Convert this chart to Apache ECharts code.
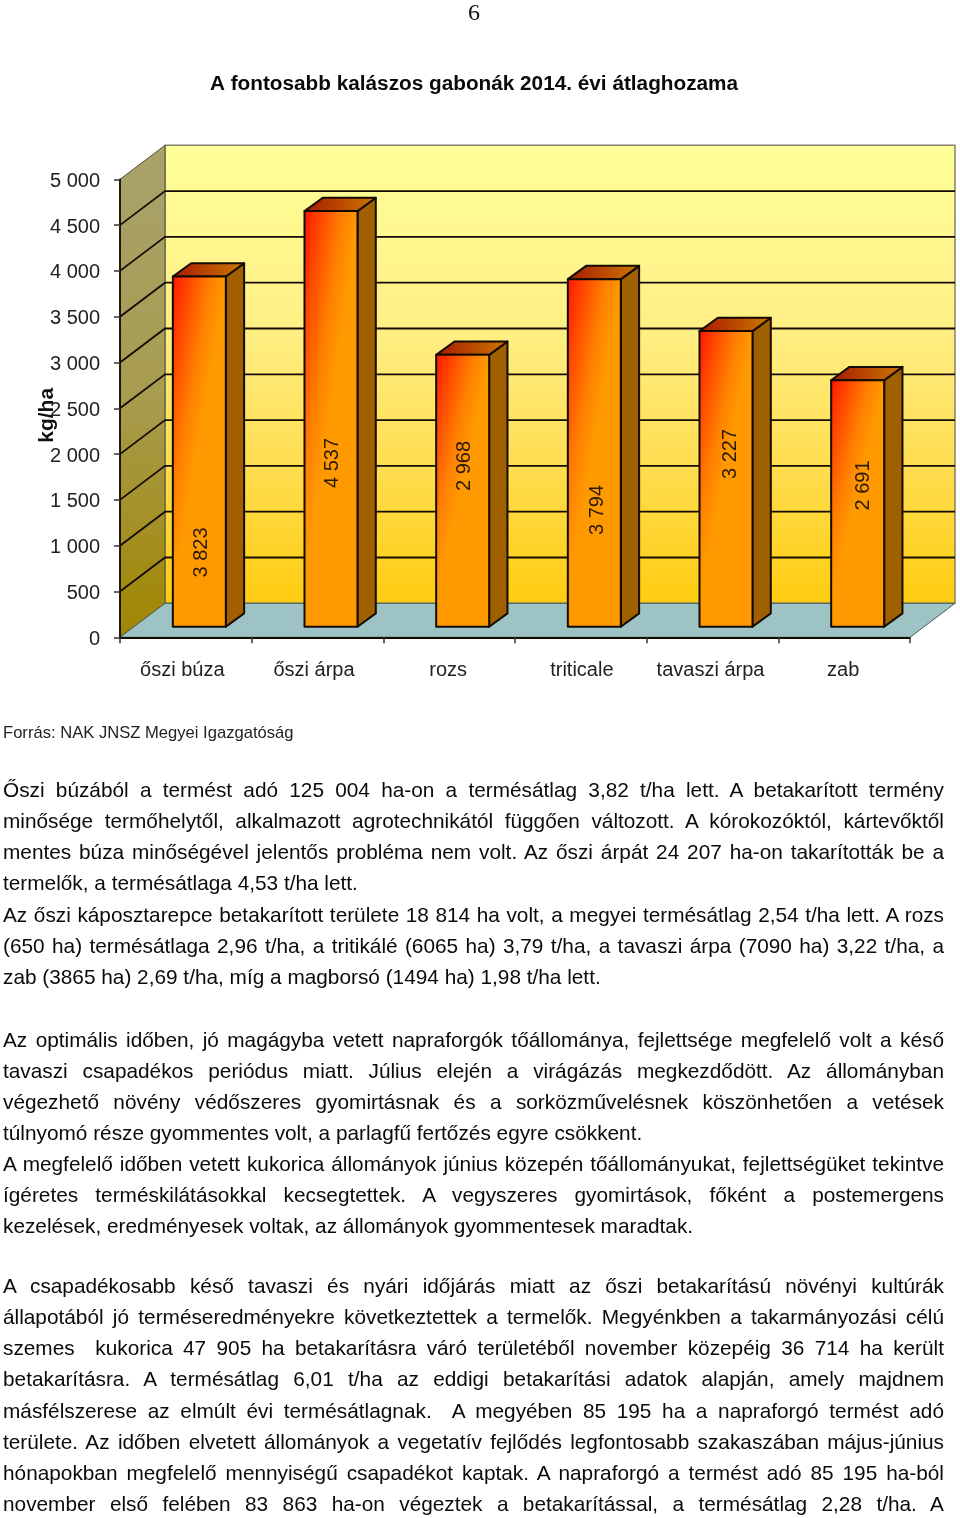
<!DOCTYPE html>
<html><head><meta charset="utf-8">
<style>
html,body{margin:0;padding:0;background:#fff;width:960px;height:1518px;overflow:hidden}
#chart{position:absolute;left:0;top:0;width:960px;height:1518px}
.l{position:absolute;left:3px;width:941px;height:26px;font:20.8px/26px "Liberation Sans",Arial,sans-serif;color:#0a0a0a;text-align:justify;text-align-last:justify;overflow:hidden}
.e{text-align-last:left}
#pg{position:absolute;left:463px;top:-1px;width:22px;text-align:center;font:24px/26px "Liberation Serif",serif;color:#111}
</style></head><body>
<div id="chart"></div>
<div id="pg">6</div>
<div id="txt"></div>
<script src="https://cdn.jsdelivr.net/npm/echarts@6/dist/echarts.min.js"></script>
<script>
const categories = ['őszi búza','őszi árpa','rozs','triticale','tavaszi árpa','zab'];
const yields = [3823,4537,2968,3794,3227,2691];
const labelHeights = [926,1903,1870,1390,2001,1657];
const labelShifts = [2,1.5,1.5,3.5,4.5,5.5];
const categoryNudges = [-3.5,-3.5,-1,1,-2,-1];
const gridValues = [500,1000,1500,2000,2500,3000,3500,4000,4500];
const chartTitle = 'A fontosabb kalászos gabonák 2014. évi átlaghozama';
const sourceLine = 'Forrás: NAK JNSZ Megyei Igazgatóság';
const bodyLines = [
 [790,'Őszi búzából a termést adó 125 004 ha-on a termésátlag 3,82 t/ha lett. A betakarított termény',1],
 [821,'minősége termőhelytől, alkalmazott agrotechnikától függően változott. A kórokozóktól, kártevőktől',1],
 [852,'mentes búza minőségével jelentős probléma nem volt. Az őszi árpát 24 207 ha-on takarították be a',1],
 [883,'termelők, a termésátlaga 4,53 t/ha lett.',0],
 [915,'Az őszi káposztarepce betakarított területe 18 814 ha volt, a megyei termésátlag 2,54 t/ha lett. A rozs',1],
 [946,'(650 ha) termésátlaga 2,96 t/ha, a tritikálé (6065 ha) 3,79 t/ha, a tavaszi árpa (7090 ha) 3,22 t/ha, a',1],
 [977,'zab (3865 ha) 2,69 t/ha, míg a magborsó (1494 ha) 1,98 t/ha lett.',0],
 [1040,'Az optimális időben, jó magágyba vetett napraforgók tőállománya, fejlettsége megfelelő volt a késő',1],
 [1071,'tavaszi csapadékos periódus miatt. Július elején a virágázás megkezdődött. Az állományban',1],
 [1102,'végezhető növény védőszeres gyomirtásnak és a sorközművelésnek köszönhetően a vetések',1],
 [1133,'túlnyomó része gyommentes volt, a parlagfű fertőzés egyre csökkent.',0],
 [1164,'A megfelelő időben vetett kukorica állományok június közepén tőállományukat, fejlettségüket tekintve',1],
 [1195,'ígéretes terméskilátásokkal kecsegtettek. A vegyszeres gyomirtások, főként a postemergens',1],
 [1226,'kezelések, eredményesek voltak, az állományok gyommentesek maradtak.',0],
 [1286,'A csapadékosabb késő tavaszi és nyári időjárás miatt az őszi betakarítású növényi kultúrák',1],
 [1317,'állapotából jó terméseredményekre következtettek a termelők. Megyénkben a takarmányozási célú',1],
 [1348,'szemes  kukorica 47 905 ha betakarításra váró területéből november közepéig 36 714 ha került',1],
 [1379,'betakarításra. A termésátlag 6,01 t/ha az eddigi betakarítási adatok alapján, amely majdnem',1],
 [1411,'másfélszerese az elmúlt évi termésátlagnak.  A megyében 85 195 ha a napraforgó termést adó',1],
 [1442,'területe. Az időben elvetett állományok a vegetatív fejlődés legfontosabb szakaszában május-június',1],
 [1473,'hónapokban megfelelő mennyiségű csapadékot kaptak. A napraforgó a termést adó 85 195 ha-ból',1],
 [1504,'november első felében 83 863 ha-on végeztek a betakarítással, a termésátlag 2,28 t/ha. A',1]
];

const txt = document.getElementById('txt');
bodyLines.forEach(([y,s,j])=>{
  const d=document.createElement('div');
  d.className='l'+(j?'':' e');
  d.style.top=(y-13)+'px';
  d.style.whiteSpace='pre-wrap';
  d.textContent=s;
  txt.appendChild(d);
});

const FONT='"Liberation Sans",Arial,sans-serif';
const DEPTH_X=45, DEPTH_Y=34, INSET_X=13.5, INSET_Y=10.6, BAR_DX=18.3, BAR_DY=13.3, BAR_RATIO=0.4025;
const LINE='#140c04';
const G=echarts.graphic;

function renderScene(params, api){
  const cs=params.coordSys;
  const x0=cs.x, x1=cs.x+cs.width;
  const y0=api.coord([0,0])[1], yTop=api.coord([0,5000])[1];
  const kids=[];
  kids.push({type:'polygon',shape:{points:[[x0+DEPTH_X,yTop-DEPTH_Y],[x1+DEPTH_X,yTop-DEPTH_Y],[x1+DEPTH_X,y0-DEPTH_Y],[x0+DEPTH_X,y0-DEPTH_Y]]},
    style:{fill:new G.LinearGradient(0,0,0,1,[{offset:0,color:'#FFFF99'},{offset:0.4,color:'#FFEF85'},{offset:0.7,color:'#FFDD50'},{offset:1,color:'#FFCC10'}]),stroke:'#85806a',lineWidth:1.5}});
  kids.push({type:'polygon',shape:{points:[[x0,yTop],[x0+DEPTH_X,yTop-DEPTH_Y],[x0+DEPTH_X,y0-DEPTH_Y],[x0,y0]]},
    style:{fill:new G.LinearGradient(0,0,0,1,[{offset:0,color:'#A8A26C'},{offset:0.5,color:'#A89C50'},{offset:1,color:'#A08600'}]),stroke:'#55503a',lineWidth:1}});
  kids.push({type:'polygon',shape:{points:[[x0,y0],[x0+DEPTH_X,y0-DEPTH_Y],[x1+DEPTH_X,y0-DEPTH_Y],[x1,y0]]},
    style:{fill:'#9DC3C5',stroke:'#4a5a50',lineWidth:1}});
  gridValues.forEach(v=>{
    const y=api.coord([0,v])[1];
    kids.push({type:'polyline',shape:{points:[[x0,y],[x0+DEPTH_X,y-DEPTH_Y],[x1+DEPTH_X,y-DEPTH_Y]]},style:{fill:null,stroke:LINE,lineWidth:1.8}});
  });
  return {type:'group',children:kids};
}

function renderBar(params, api){
  const i=api.value(0), v=api.value(1);
  const band=api.size([1,0])[0], w=band*BAR_RATIO;
  const c=api.coord([i,v]), b=api.coord([i,0]);
  const l=c[0]+INSET_X-w/2, r=l+w, t=c[1]-INSET_Y, bt=b[1]-INSET_Y, h=bt-t;
  // the front face fades from red at its upper-left corner to orange along a slanted edge
  const ex=0.85*h, len=Math.hypot(ex,w), d=w*ex/len;
  const gx=d*ex/len/w, gy=d*w/len/h;
  const front=new G.LinearGradient(0,0,gx,gy,[{offset:0,color:'#FF1400'},{offset:0.35,color:'#FF4A00'},{offset:0.7,color:'#FF7D00'},{offset:1,color:'#FF9900'}]);
  const topFace=new G.LinearGradient(0,0,1,0,[{offset:0,color:'#A81800'},{offset:1,color:'#CC7A00'}]);
  const st={stroke:LINE,lineWidth:2,lineJoin:'round'};
  const lp=api.coord([i,labelHeights[i]]);
  return {type:'group',children:[
    {type:'polygon',shape:{points:[[r,t],[r+BAR_DX,t-BAR_DY],[r+BAR_DX,bt-BAR_DY],[r,bt]]},style:{fill:'#A06000',...st}},
    {type:'polygon',shape:{points:[[l,t],[l+BAR_DX,t-BAR_DY],[r+BAR_DX,t-BAR_DY],[r,t]]},style:{fill:topFace,...st}},
    {type:'polygon',shape:{points:[[l,t],[r,t],[r,bt],[l,bt]]},style:{fill:front,...st}},
    {type:'text',x:lp[0]+INSET_X+labelShifts[i],y:lp[1],rotation:Math.PI/2,
      style:{text:fmt(v),align:'center',verticalAlign:'middle',fill:'#2a1a08',font:'20px '+FONT}}
  ]};
}
function fmt(v){ return v>=1000 ? Math.floor(v/1000)+' '+String(v%1000).padStart(3,'0') : String(v); }

// one rich style per category so each name can sit slightly off its band centre
const catRich={};
categoryNudges.forEach((n,i)=>{
  catRich['c'+i]={fontFamily:FONT,fontSize:20,color:'#222',padding:n<0?[0,-2*n,0,0]:[0,0,0,2*n]};
});

const chart=echarts.init(document.getElementById('chart'),null,{renderer:'canvas'});
chart.setOption({
  animation:false,
  backgroundColor:'#fff',
  title:[
    {text:chartTitle,left:474,top:74,textAlign:'center',textStyle:{fontFamily:FONT,fontWeight:'bold',fontSize:20.75,color:'#0a0a0a'},padding:0},
    {text:sourceLine,left:3,top:725,textStyle:{fontFamily:FONT,fontWeight:'normal',fontSize:16.6,color:'#222'},padding:0}
  ],
  grid:{left:120,top:179.3,width:790,height:458,containLabel:false},
  xAxis:{type:'category',data:categories,z:10,
    axisLine:{lineStyle:{color:LINE,width:1.8}},
    axisTick:{show:true,alignWithLabel:false,length:6,lineStyle:{color:'#333',width:1.5}},
    axisLabel:{margin:23,interval:0,formatter:(v,i)=>'{c'+i+'|'+v+'}',rich:catRich}},
  yAxis:{type:'value',min:0,max:5000,interval:500,z:10,
    name:'kg/ha',nameLocation:'middle',nameRotate:90,nameGap:62,nameMoveOverlap:false,
    nameTextStyle:{fontFamily:FONT,fontWeight:'bold',fontSize:21,color:'#111',align:'center',padding:[0,14,0,0]},
    axisLine:{show:true,lineStyle:{color:LINE,width:1.8}},
    axisTick:{show:true,length:6,lineStyle:{color:'#333',width:1.5}},
    splitLine:{show:false},
    axisLabel:{margin:20,fontFamily:FONT,fontSize:20,color:'#222',formatter:v=>'{v|'+fmt(v)+'}',
      rich:{v:{fontFamily:FONT,fontSize:20,color:'#222',padding:[4,0,0,0]}}}},
  series:[
    {type:'custom',coordinateSystem:'cartesian2d',z:1,silent:true,renderItem:renderScene,data:[[0,0]],encode:{x:0,y:1}},
    {type:'custom',coordinateSystem:'cartesian2d',z:3,silent:true,renderItem:renderBar,clip:false,
      data:yields.map((v,i)=>[i,v]),encode:{x:0,y:1}}
  ]
});
</script>
</body></html>
